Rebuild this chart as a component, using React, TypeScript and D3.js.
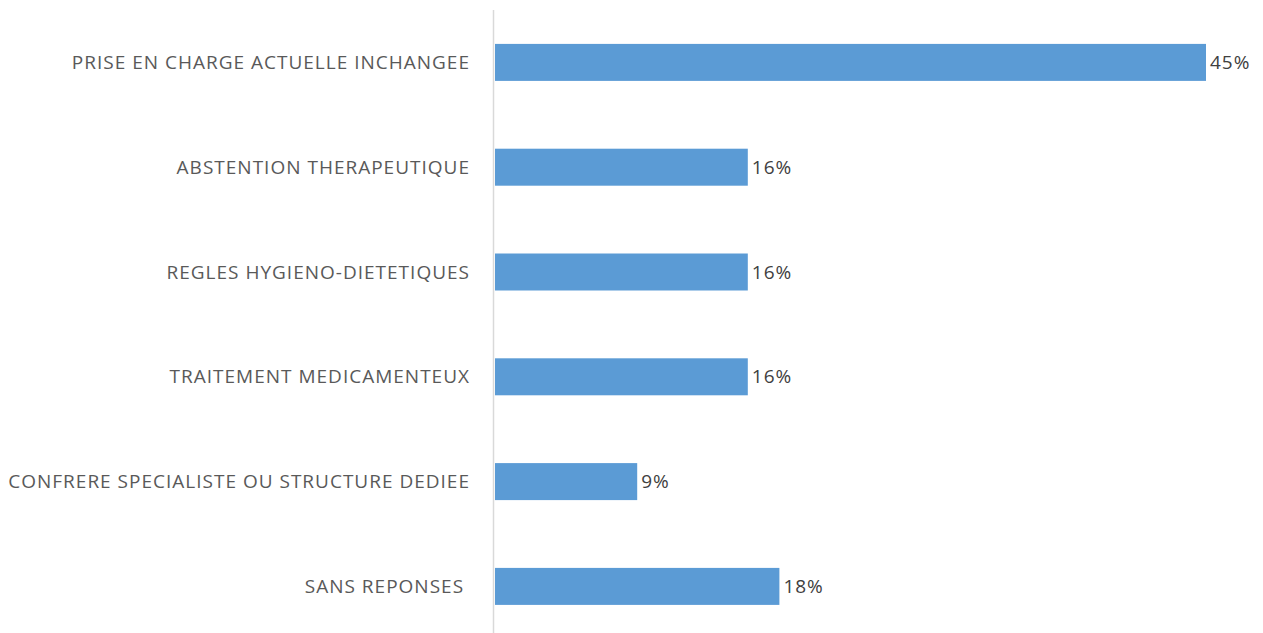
import { useEffect, useRef } from "react";
import * as d3 from "d3";

const categories = [
  "PRISE EN CHARGE ACTUELLE INCHANGEE",
  "ABSTENTION THERAPEUTIQUE",
  "REGLES HYGIENO-DIETETIQUES",
  "TRAITEMENT MEDICAMENTEUX",
  "CONFRERE SPECIALISTE OU STRUCTURE DEDIEE",
  "SANS REPONSES ",
];
const values = [45, 16, 16, 16, 9, 18];
const valueLabels = ["45%", "16%", "16%", "16%", "9%", "18%"];

const width = 1263;
const height = 633;
const font = "'Open Sans', 'Liberation Sans', sans-serif";

const App = () => {
  const svgRef = useRef<SVGSVGElement>(null);

  useEffect(() => {
    const svg = d3.select(svgRef.current);
    svg.selectAll("*").remove();

    const x = d3.scaleLinear().domain([0, 45]).range([495, 1206]);
    const y = d3
      .scaleBand()
      .domain(categories)
      .range([10, 638.8])
      .paddingInner(0.647)
      .paddingOuter(0.3235);

    svg
      .append("g")
      .selectAll("rect")
      .data(values)
      .enter()
      .append("rect")
      .attr("x", x(0))
      .attr("y", (_, i) => y(categories[i])!)
      .attr("width", (d) => x(d) - x(0))
      .attr("height", y.bandwidth())
      .attr("fill", "#5b9bd5");

    // vertical axis line
    svg
      .append("line")
      .attr("x1", 493.5)
      .attr("x2", 493.5)
      .attr("y1", 10)
      .attr("y2", height)
      .attr("stroke", "#d9d9d9")
      .attr("stroke-width", 1.5);

    svg
      .append("g")
      .selectAll("text")
      .data(categories)
      .enter()
      .append("text")
      .attr("x", 470)
      .attr("y", (d) => y(d)! + y.bandwidth() / 2)
      .attr("dy", "0.35em")
      .attr("text-anchor", "end")
      .attr("xml:space", "preserve")
      .style("white-space", "pre")
      .attr("font-family", font)
      .attr("font-size", 19)
      .attr("letter-spacing", 1)
      .attr("fill", "#595959")
      .text((d) => d);

    svg
      .append("g")
      .selectAll("text")
      .data(values)
      .enter()
      .append("text")
      .attr("x", (d) => x(d) + 4)
      .attr("y", (_, i) => y(categories[i])! + y.bandwidth() / 2)
      .attr("dy", "0.35em")
      .attr("font-family", font)
      .attr("font-size", 19)
      .attr("letter-spacing", 1)
      .attr("fill", "#404040")
      .text((_, i) => valueLabels[i]);
  }, []);

  return (
    <svg
      ref={svgRef}
      width={width}
      height={height}
      style={{ position: "absolute", left: 0, top: 0, background: "#fff" }}
    />
  );
};

export default App;
